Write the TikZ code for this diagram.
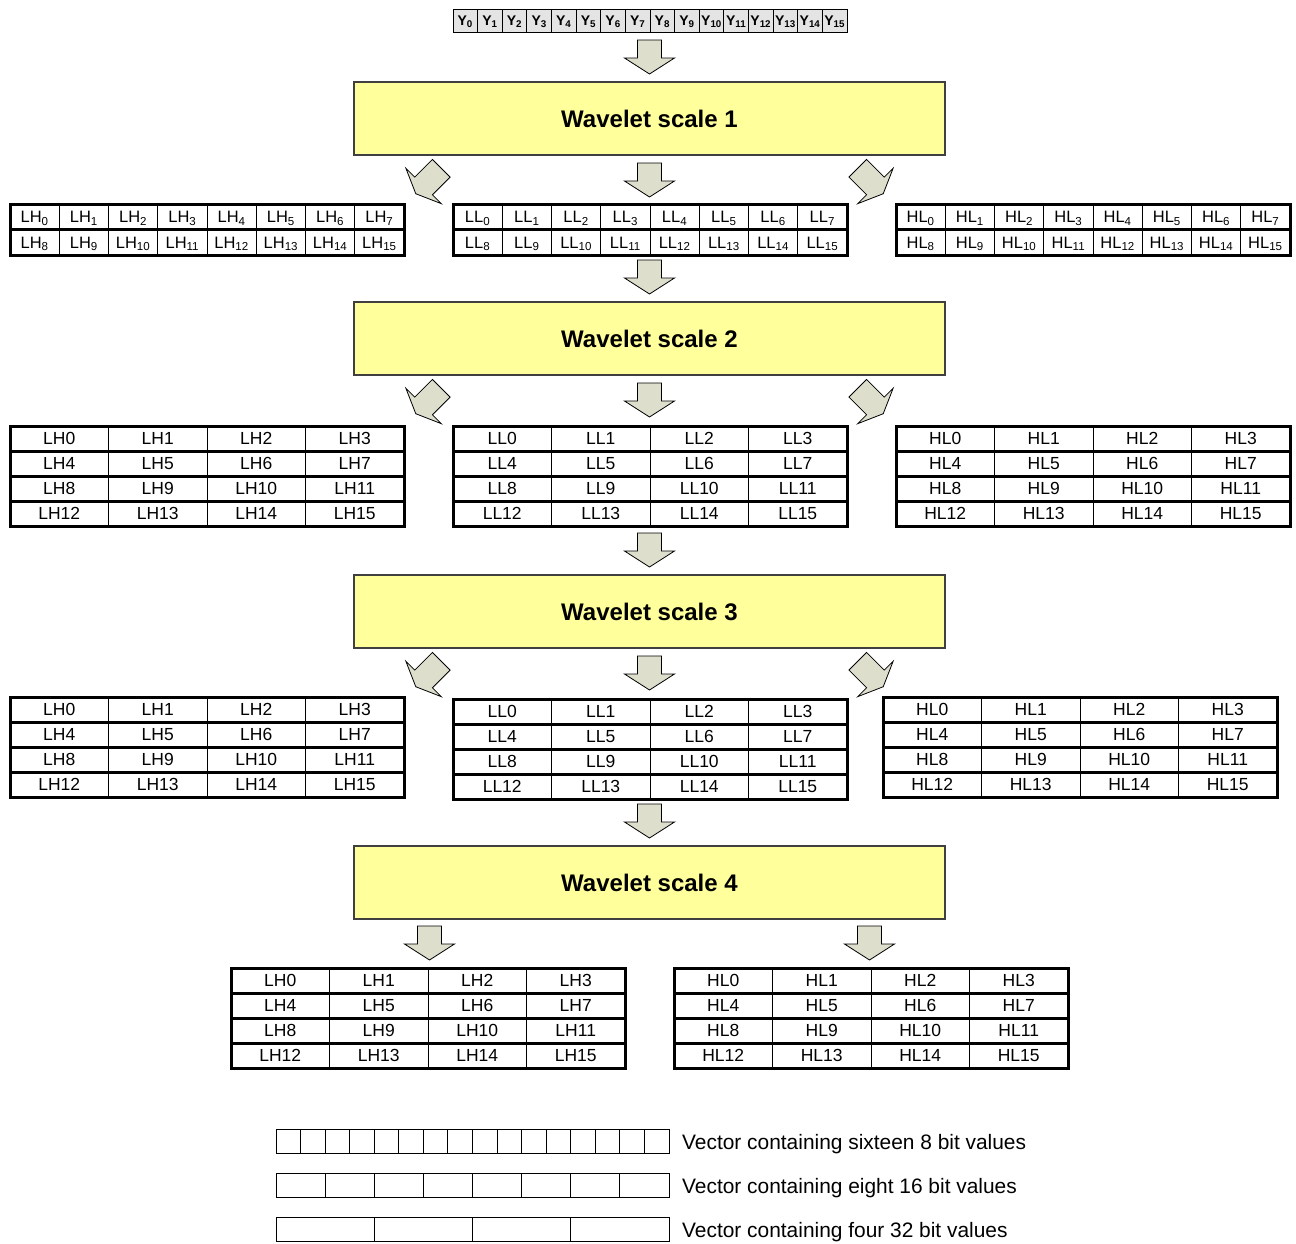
\documentclass[tikz,border=0pt]{standalone}
\usepackage{fontspec}
\setmainfont{Liberation Sans}
\usetikzlibrary{calc}

\definecolor{scalefill}{RGB}{255,255,156}
\definecolor{arrowfill}{RGB}{221,222,204}
\definecolor{ycell}{RGB}{228,228,228}

\tikzset{
  wavebox/.style={draw=black!75, line width=1.6pt, fill=scalefill, anchor=north west,
    minimum width=591pt, minimum height=73pt, outer sep=0pt, inner sep=0pt,
    font=\fontsize{24}{28}\selectfont\bfseries},
  flowarrow/.style={draw=black, line width=0.8pt, fill=arrowfill, line join=miter},
  tableframe/.style={draw=black, line width=3pt, fill=white, outer sep=0pt, inner sep=0pt, anchor=north west},
  rowrule/.style={line width=3pt},
  colrule/.style={line width=0.9pt},
  celltext/.style={inner sep=0pt, text height=12.5pt, text depth=0pt, font=\fontsize{17.5}{20}\selectfont},
  subtext/.style={inner sep=0pt, text height=11.8pt, text depth=0pt, font=\fontsize{16.5}{20}\selectfont},
  ytext/.style={inner sep=0pt, text height=10pt, text depth=0pt, font=\fontsize{14}{16}\selectfont\bfseries},
  vecframe/.style={draw=black, line width=1pt, fill=white, outer sep=0pt, inner sep=0pt,
    anchor=north west, minimum width=393pt, minimum height=24pt},
  legendtext/.style={anchor=west, inner sep=0pt, text height=15pt, text depth=0pt,
    font=\fontsize{20.9}{24}\selectfont},
}

% straight block arrow centred at #1, turned by #2 degrees
\newcommand\blockarrow[2]{%
  \draw[flowarrow, shift={#1}, rotate=#2]
    (-12,-17) -- (12,-17) -- (12,1) -- (25,1) -- (0,17) -- (-25,1) -- (-12,1) -- cycle;}

% slanted block arrow (square body, short head) centred at #1, turned by #2 degrees
\newcommand\slantarrow[2]{%
  \draw[flowarrow, shift={#1}, rotate=#2]
    (-12.5,-18) -- (12.5,-18) -- (12.5,7) -- (25,7) -- (0,18) -- (-25,7) -- (-12.5,7) -- cycle;}

% 2 x 8 table with subscripted labels
\newcommand\octtable[3]{%
  \node[tableframe, minimum width=394pt, minimum height=51pt] (#1) at #2 {};
  \foreach \col in {1,...,7}
    \draw[colrule] ($(#1.north west)+(49.25*\col,0)$) -- ($(#1.south west)+(49.25*\col,0)$);
  \draw[rowrule] (#1.west) -- (#1.east);
  \foreach \row in {0,1}{\foreach \col in {0,...,7}{
    \pgfmathtruncatemacro\cellno{8*\row+\col}
    \node[subtext] at ($(#1.north west)+(49.25*\col+24.625,25.5*\row+12.75)$) {#3\textsubscript{\cellno}};}}
  \draw[line width=3pt] (#1.north west) rectangle (#1.south east);
}

% 4 x 4 table with plain labels
\newcommand\quadtable[3]{%
  \node[tableframe, minimum width=394pt, minimum height=100pt] (#1) at #2 {};
  \foreach \col in {1,2,3}
    \draw[colrule] ($(#1.north west)+(98.5*\col,0)$) -- ($(#1.south west)+(98.5*\col,0)$);
  \foreach \row in {1,2,3}
    \draw[rowrule] ($(#1.north west)+(0,25*\row)$) -- ($(#1.north east)+(0,25*\row)$);
  \foreach \row in {0,...,3}{\foreach \col in {0,...,3}{
    \pgfmathtruncatemacro\cellno{4*\row+\col}
    \node[celltext] at ($(#1.north west)+(98.5*\col+49.25,25*\row+12.5)$) {#3\cellno};}}
  \draw[line width=3pt] (#1.north west) rectangle (#1.south east);
}

% legend vector with #3 equal cells
\newcommand\vectorbar[3]{%
  \node[vecframe] (#1) at #2 {};
  \pgfmathsetmacro\cellw{393/#3}
  \pgfmathtruncatemacro\lastcut{#3-1}
  \foreach \col in {1,...,\lastcut}
    \draw[line width=1pt] ($(#1.north west)+(\cellw*\col,0)$) -- ($(#1.south west)+(\cellw*\col,0)$);
}

\begin{document}
\begin{tikzpicture}[x=1pt, y=-1pt]
\useasboundingbox (0,0) rectangle (1296,1243);

% input row of pixels
\node[draw=black, line width=0.9pt, fill=ycell, anchor=north west, outer sep=0pt, inner sep=0pt,
      minimum width=394pt, minimum height=23pt] (yrow) at (453,9) {};
\foreach \col in {1,...,15}
  \draw[line width=0.9pt] ($(yrow.north west)+(24.625*\col,0)$) -- ($(yrow.south west)+(24.625*\col,0)$);
\foreach \col in {0,...,15}
  \node[ytext] at ($(yrow.north west)+(24.625*\col+12.3,11.5)$) {Y\textsubscript{\col}};

% wavelet stages
\node[wavebox] (ws1) at (354,82)  {Wavelet scale 1};
\node[wavebox] (ws2) at (354,302) {Wavelet scale 2};
\node[wavebox] (ws3) at (354,575) {Wavelet scale 3};
\node[wavebox] (ws4) at (354,846) {Wavelet scale 4};

% sub-band tables
\octtable{lh1}{(10,204)}{LH}
\octtable{ll1}{(453,204)}{LL}
\octtable{hl1}{(896,204)}{HL}

\quadtable{lh2}{(10,426)}{LH}
\quadtable{ll2}{(453,426)}{LL}
\quadtable{hl2}{(896,426)}{HL}

\quadtable{lh3}{(10,697)}{LH}
\quadtable{ll3}{(453,699)}{LL}
\quadtable{hl3}{(883,697)}{HL}

\quadtable{lh4}{(231,968)}{LH}
\quadtable{hl4}{(674,968)}{HL}

% flow arrows into each stage
\blockarrow{($(ws1.north)+(0,-25)$)}{0}
\blockarrow{($(ws2.north)+(0,-25)$)}{0}
\blockarrow{($(ws3.north)+(0,-25)$)}{0}
\blockarrow{($(ws4.north)+(0,-25)$)}{0}

% flow arrows out of stages 1-3
\foreach \s in {ws1,ws2,ws3}{
  \blockarrow{($(\s.south)+(0,25)$)}{0}
  \slantarrow{($(\s.south)+(-221,26)$)}{-45}
  \slantarrow{($(\s.south)+(221,26)$)}{45}
}

% flow arrows out of stage 4
\blockarrow{($(ws4.south)+(-220,24)$)}{0}
\blockarrow{($(ws4.south)+(220,24)$)}{0}

% legend
\vectorbar{vec8}{(276,1129)}{16}
\vectorbar{vec16}{(276,1173)}{8}
\vectorbar{vec32}{(276,1217)}{4}
\node[legendtext] (lab8)  at ($(vec8.east)+(13,1)$)  {Vector containing sixteen 8 bit values};
\node[legendtext] (lab16) at ($(vec16.east)+(13,1)$) {Vector containing eight 16 bit values};
\node[legendtext] (lab32) at ($(vec32.east)+(13,1)$) {Vector containing four 32 bit values};
\end{tikzpicture}
\end{document}
